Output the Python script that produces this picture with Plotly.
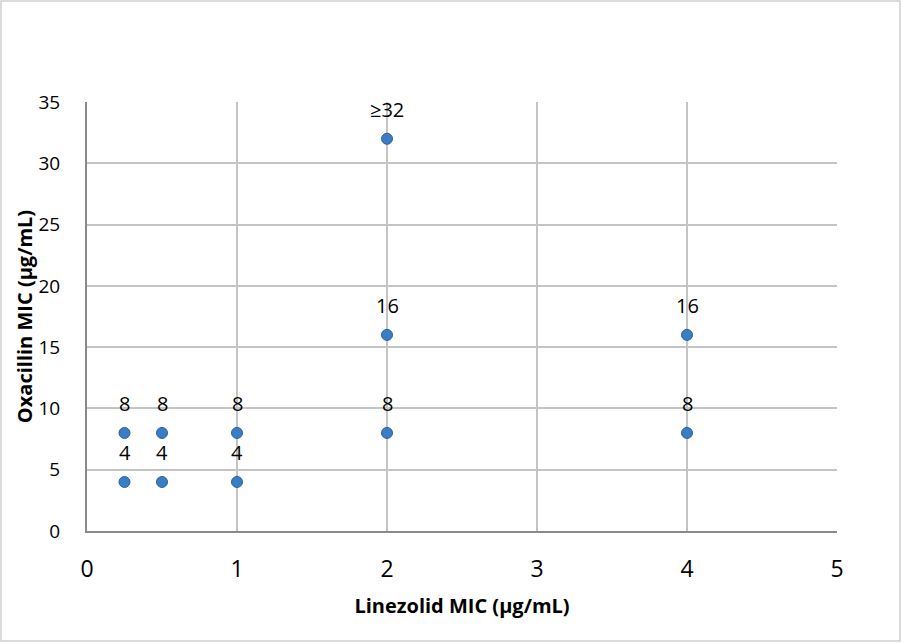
import plotly.graph_objects as go

linezolid = [0.25, 0.25, 0.5, 0.5, 1, 1, 2, 2, 2, 4, 4]
oxacillin = [4, 8, 4, 8, 4, 8, 8, 16, 32, 8, 16]
labels = ["4", "8", "4", "8", "4", "8", "8", "16", "≥32", "8", "16"]

x_ticks = [0, 1, 2, 3, 4, 5]
y_ticks = [0, 5, 10, 15, 20, 25, 30, 35]

FONT = "'Open Sans', sans-serif"

fig = go.Figure()
fig.add_trace(go.Scatter(
    x=linezolid, y=oxacillin, mode="markers",
    marker=dict(size=11, color="#3A7DC4", line=dict(color="#2A5F9A", width=1)),
    showlegend=False, hoverinfo="skip"))

for xv, yv, t in zip(linezolid, oxacillin, labels):
    fig.add_annotation(x=xv, y=yv, text=t, showarrow=False, yshift=29,
                       font=dict(family=FONT, size=20, color="#000000"))

L, R, T, B = 87, 65, 102, 112
W, H = 902, 643
pw, ph = W - L - R, H - T - B
fig.add_shape(type="rect", xref="paper", yref="paper",
              x0=(1 - L) / pw, x1=(W - 2 - L) / pw,
              y0=-(H - 2 - T - ph) / ph, y1=(ph + T - 1) / ph,
              line=dict(color="#D0D0D0", width=1.5), layer="below")

fig.update_layout(
    width=W, height=H, margin=dict(l=L, r=R, t=T, b=B),
    paper_bgcolor="white", plot_bgcolor="white",
    font=dict(family=FONT, color="#000000"),
    xaxis=dict(range=[0, 5], tickvals=x_ticks, showgrid=True, gridcolor="#C4C4C4",
               gridwidth=1.5, showline=True, linecolor="#8A8A8A", linewidth=2,
               zeroline=False, ticks="", tickfont=dict(size=23), ticklabelstandoff=16,
               title=dict(text="<b>Linezolid MIC (µg/mL)</b>", font=dict(size=20), standoff=16)),
    yaxis=dict(range=[0, 35], tickvals=y_ticks, showgrid=True, gridcolor="#C4C4C4",
               gridwidth=1.5, showline=True, linecolor="#8A8A8A", linewidth=2,
               zeroline=False, ticks="", tickfont=dict(size=19), ticklabelstandoff=21,
               title=dict(text="<b>Oxacillin MIC (µg/mL)</b>", font=dict(size=20), standoff=0)),
)
fig.write_html("out.html", config={"displayModeBar": False},
               post_script="document.body.style.margin='0';document.body.style.padding='0';")
